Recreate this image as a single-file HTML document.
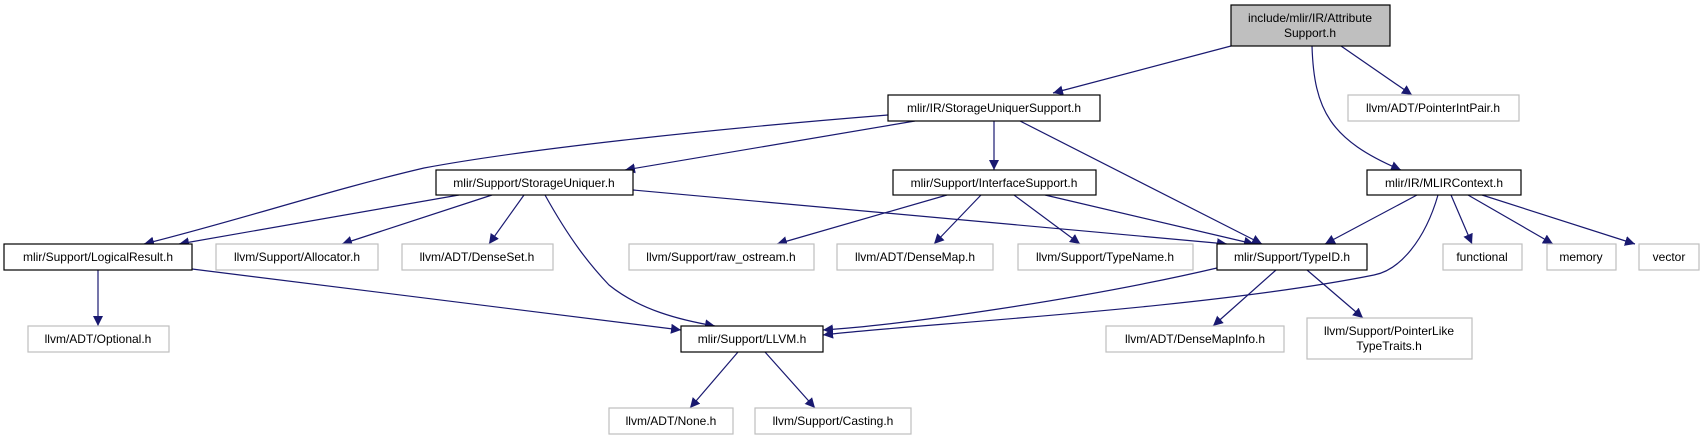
<!DOCTYPE html>
<html><head><meta charset="utf-8"><style>
html,body{margin:0;padding:0;background:#fff;}
svg{display:block;}
text{font-family:"Liberation Sans",Arial,sans-serif;font-size:12px;}
</style></head><body>
<svg width="1704" height="440" viewBox="0 0 1704 440" xmlns="http://www.w3.org/2000/svg">
<defs>
<marker id="a" viewBox="0 0 10 10" refX="10" refY="5" markerWidth="10" markerHeight="10" markerUnits="userSpaceOnUse" orient="auto">
<path d="M0,0 L10,5 L0,10 z" fill="#191970"/>
</marker>
</defs>
<g fill="none" stroke="#191970" stroke-width="1.2" marker-end="url(#a)">
<path d="M1231,46 L1053,93"/>
<path d="M1341,46 L1412,95"/>
<path d="M1312,46 C1314,110 1330,140 1401,170"/>
<path d="M888,115 C700,130 520,150 424,168 C330,190 240,220 144,244"/>
<path d="M915,121 L625,170"/>
<path d="M994,121 L994,170"/>
<path d="M1020,121 L1262,244"/>
<path d="M459,195 L179,244"/>
<path d="M492,195 L342,244"/>
<path d="M524,195 L489,244"/>
<path d="M545,195 C570,240 590,265 609,285 C640,310 680,320 715,326"/>
<path d="M633,190 L1227,244"/>
<path d="M947,195 L777,244"/>
<path d="M981,195 L934,244"/>
<path d="M1014,195 L1080,244"/>
<path d="M1045,195 L1254,244"/>
<path d="M1417,195 L1325,244"/>
<path d="M1438,195 C1425,240 1400,270 1374,275 C1200,310 900,325 823,335"/>
<path d="M1451,195 L1472,244"/>
<path d="M1468,195 L1553,244"/>
<path d="M1482,195 L1635,244"/>
<path d="M1217,268 C1080,300 900,325 823,330"/>
<path d="M1276,270 L1213,326"/>
<path d="M1307,270 L1363,318"/>
<path d="M98,270 L98,326"/>
<path d="M192,269 L681,330"/>
<path d="M738,352 L690,408"/>
<path d="M765,352 L815,408"/>
</g>
<g stroke-width="1.2">
<rect x="1231" y="5" width="159" height="41" fill="#bfbfbf" stroke="#000"/>
<g fill="#fff" stroke="#000">
<rect x="888" y="95" width="212" height="26"/>
<rect x="436" y="170" width="197" height="25"/>
<rect x="893" y="170" width="203" height="25"/>
<rect x="1367" y="170" width="154" height="25"/>
<rect x="4" y="244" width="188" height="26"/>
<rect x="1217" y="244" width="150" height="26"/>
<rect x="681" y="326" width="142" height="26"/>
</g>
<g fill="#fff" stroke="#bfbfbf">
<rect x="1348" y="95" width="171" height="26"/>
<rect x="216" y="244" width="162" height="26"/>
<rect x="402" y="244" width="151" height="26"/>
<rect x="629" y="244" width="185" height="26"/>
<rect x="837" y="244" width="156" height="26"/>
<rect x="1018" y="244" width="175" height="26"/>
<rect x="1443" y="244" width="79" height="26"/>
<rect x="1547" y="244" width="69" height="26"/>
<rect x="1639" y="244" width="60" height="26"/>
<rect x="28" y="326" width="141" height="26"/>
<rect x="1106" y="326" width="178" height="26"/>
<rect x="1307" y="318" width="165" height="41"/>
<rect x="609" y="408" width="124" height="26"/>
<rect x="755" y="408" width="156" height="26"/>
</g>
</g>
<g fill="#000" text-anchor="middle">
<text x="1310" y="22">include/mlir/IR/Attribute</text>
<text x="1310" y="37">Support.h</text>
<text x="994" y="112">mlir/IR/StorageUniquerSupport.h</text>
<text x="534" y="187">mlir/Support/StorageUniquer.h</text>
<text x="994" y="187">mlir/Support/InterfaceSupport.h</text>
<text x="1444" y="187">mlir/IR/MLIRContext.h</text>
<text x="98" y="261">mlir/Support/LogicalResult.h</text>
<text x="1292" y="261">mlir/Support/TypeID.h</text>
<text x="752" y="343">mlir/Support/LLVM.h</text>
</g>
<g fill="#000" text-anchor="middle">
<text x="1433" y="112">llvm/ADT/PointerIntPair.h</text>
<text x="297" y="261">llvm/Support/Allocator.h</text>
<text x="477" y="261">llvm/ADT/DenseSet.h</text>
<text x="721" y="261">llvm/Support/raw_ostream.h</text>
<text x="915" y="261">llvm/ADT/DenseMap.h</text>
<text x="1105" y="261">llvm/Support/TypeName.h</text>
<text x="1482" y="261">functional</text>
<text x="1581" y="261">memory</text>
<text x="1669" y="261">vector</text>
<text x="98" y="343">llvm/ADT/Optional.h</text>
<text x="1195" y="343">llvm/ADT/DenseMapInfo.h</text>
<text x="1389" y="335">llvm/Support/PointerLike</text>
<text x="1389" y="350">TypeTraits.h</text>
<text x="671" y="425">llvm/ADT/None.h</text>
<text x="833" y="425">llvm/Support/Casting.h</text>
</g>
</svg>
</body></html>
